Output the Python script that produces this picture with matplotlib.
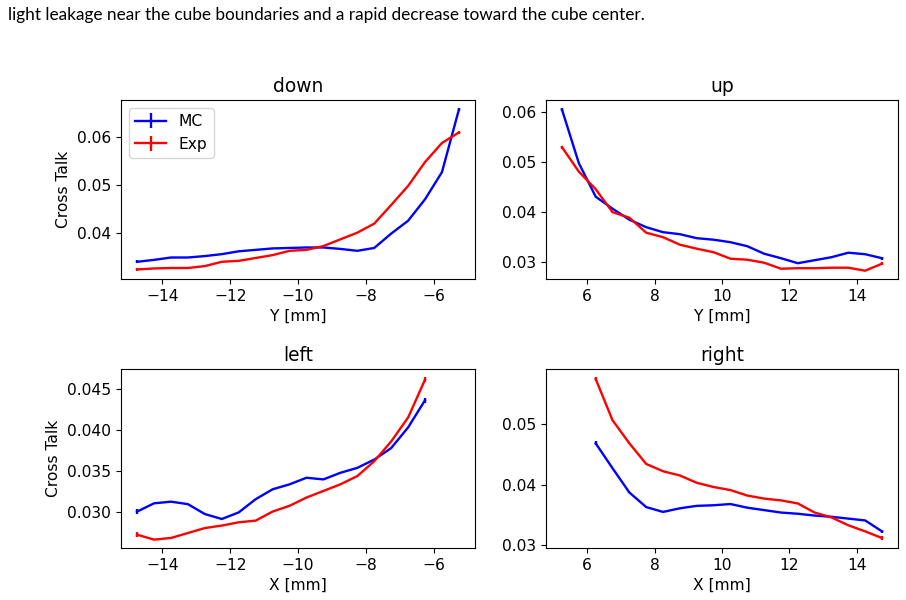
import numpy as np
import matplotlib
matplotlib.use("Agg")
import matplotlib.pyplot as plt

# x positions (mm)
x_down = [-14.75, -14.25, -13.75, -13.25, -12.75, -12.25, -11.75, -11.25, -10.75, -10.25,
          -9.75, -9.25, -8.75, -8.25, -7.75, -7.25, -6.75, -6.25, -5.75, -5.25]
x_up = [5.25, 5.75, 6.25, 6.75, 7.25, 7.75, 8.25, 8.75, 9.25, 9.75,
        10.25, 10.75, 11.25, 11.75, 12.25, 12.75, 13.25, 13.75, 14.25, 14.75]
x_left = [-14.75, -14.25, -13.75, -13.25, -12.75, -12.25, -11.75, -11.25, -10.75,
          -10.25, -9.75, -9.25, -8.75, -8.25, -7.75, -7.25, -6.75, -6.25]
x_right = [6.25, 6.75, 7.25, 7.75, 8.25, 8.75, 9.25, 9.75, 10.25,
           10.75, 11.25, 11.75, 12.25, 12.75, 13.25, 13.75, 14.25, 14.75]

# cross talk values
mc_down = [0.0339, 0.0343, 0.0348, 0.0348, 0.0351, 0.0355, 0.0361, 0.0364, 0.0367, 0.0368,
           0.0369, 0.0369, 0.0366, 0.0362, 0.0368, 0.0398, 0.0425, 0.0470, 0.0527, 0.0658]
exp_down = [0.0323, 0.0325, 0.0326, 0.0326, 0.0330, 0.0339, 0.0341, 0.0347, 0.0353, 0.0362,
            0.0364, 0.0372, 0.0386, 0.0400, 0.0419, 0.0458, 0.0498, 0.0548, 0.0588, 0.0610]

mc_up = [0.0605, 0.0498, 0.0431, 0.0407, 0.0385, 0.0370, 0.0360, 0.0356, 0.0348, 0.0345,
         0.0340, 0.0332, 0.0317, 0.0308, 0.0298, 0.0304, 0.0310, 0.0319, 0.0316, 0.0308]
exp_up = [0.0530, 0.0481, 0.0446, 0.0400, 0.0389, 0.0359, 0.0350, 0.0335, 0.0327, 0.0320,
          0.0307, 0.0305, 0.0299, 0.0287, 0.0288, 0.0288, 0.0289, 0.0289, 0.0283, 0.0297]

mc_left = [0.0301, 0.0311, 0.0313, 0.0310, 0.0298, 0.0292, 0.0300, 0.0316, 0.0328,
           0.0334, 0.0342, 0.0340, 0.0348, 0.0354, 0.0364, 0.0378, 0.0403, 0.0436]
exp_left = [0.0273, 0.0267, 0.0269, 0.0275, 0.0281, 0.0284, 0.0288, 0.0290, 0.0301,
            0.0308, 0.0318, 0.0326, 0.0334, 0.0344, 0.0362, 0.0386, 0.0415, 0.0461]

mc_right = [0.0468, 0.0427, 0.0387, 0.0363, 0.0355, 0.0361, 0.0365, 0.0366, 0.0368,
            0.0362, 0.0358, 0.0354, 0.0352, 0.0349, 0.0347, 0.0344, 0.0341, 0.0323]
exp_right = [0.0574, 0.0506, 0.0468, 0.0434, 0.0422, 0.0415, 0.0403, 0.0396, 0.0391,
             0.0382, 0.0377, 0.0374, 0.0369, 0.0354, 0.0346, 0.0333, 0.0323, 0.0312]

# statistical errors: tiny in the middle, a bit larger at the edge points
err_mid = 0.00003
err_edge = 0.0003

caption = "light leakage near the cube boundaries and a rapid decrease toward the cube center."

plt.rcParams["font.family"] = ["DejaVu Sans"]
plt.rcParams["font.size"] = 11.2
plt.rcParams["axes.titlesize"] = 13.4
plt.rcParams["axes.labelsize"] = 11.2
plt.rcParams["lines.linewidth"] = 1.7

fig = plt.figure(figsize=(9.06, 6.0), dpi=100)
fig.text(0.009, 0.975, caption, fontsize=12.4, family="Lato", va="center", ha="left")

W, H = 906, 600
def box(l, t, r, b):
    return [l / W, (H - b) / H, (r - l) / W, (b - t) / H]

def errs(n):
    e = [err_mid] * n
    e[0] = err_edge
    e[-1] = err_edge
    return e

panels = [
    ("down", box(121, 100, 475, 279), x_down, mc_down, exp_down, "Y [mm]", True),
    ("up", box(546, 100, 898, 279), x_up, mc_up, exp_up, "Y [mm]", False),
    ("left", box(121, 369, 475, 548), x_left, mc_left, exp_left, "X [mm]", True),
    ("right", box(546, 369, 898, 548), x_right, mc_right, exp_right, "X [mm]", False),
]

for title, rect, x, mc, ex, xlab, ylab in panels:
    ax = fig.add_axes(rect)
    ax.errorbar(x, mc, yerr=errs(len(x)), color="blue", label="MC")
    ax.errorbar(x, ex, yerr=errs(len(x)), color="red", label="Exp")
    ax.set_title(title)
    ax.set_xlabel(xlab)
    if ylab:
        ax.set_ylabel("Cross Talk")
    if x[0] < 0:
        ax.set_xlim(-15.225, -4.775)
    else:
        ax.set_xlim(4.775, 15.225)
    if title == "down":
        ax.legend(loc="upper left")

fig.savefig("out.png", dpi=100)
